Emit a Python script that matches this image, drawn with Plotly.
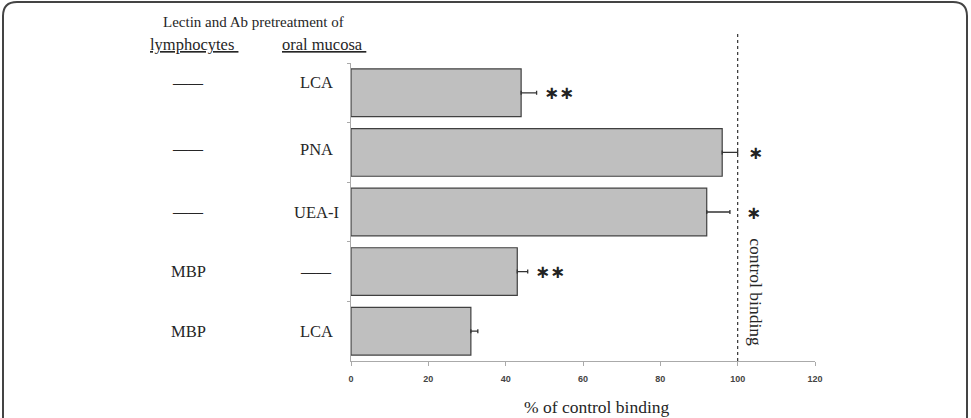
import plotly.graph_objects as go

# ---------------- data ----------------
lymphocytes = ["——", "——", "——", "MBP", "MBP"]
oral_mucosa = ["LCA", "PNA", "UEA-I", "——", "LCA"]
values = [44, 96, 92, 43, 31]
errors = [4, 4, 6, 2.7, 1.8]
signif = ["**", "*", "*", "**", ""]
control_value = 100
x_ticks = [0, 20, 40, 60, 80, 100, 120]

# ---------------- layout geometry (pixels) ----------------
W, H = 971, 418
L, R, T, B = 351, 815, 63, 361


def px(x):
    return (x - L) / (R - L)


def py(y):
    return (B - y) / (B - T)


cats = [f"{a}|{b}|{i}" for i, (a, b) in enumerate(zip(lymphocytes, oral_mucosa))]

serif = "Liberation Serif"
dark = "#262626"


def lab(t):
    return "<b>" + t + "</b>" if t == "——" else t


fig = go.Figure()
fig.add_trace(go.Bar(
    x=values, y=cats, orientation="h",
    marker=dict(color="#bfbfbf", line=dict(color="#404040", width=1.2)),
    error_x=dict(type="data", array=errors, symmetric=False, arrayminus=[0] * len(values),
                 color="#333333", thickness=1.3, width=2),
    hoverinfo="skip",
))

C = dict(xanchor="center", yanchor="middle", showarrow=False)
annotations = []
# header
annotations.append(dict(text="Lectin and Ab pretreatment of", x=px(253), y=py(22),
                        xref="paper", yref="paper", **C,
                        font=dict(family=serif, size=15, color=dark)))
annotations.append(dict(text="<u>lymphocytes&nbsp;</u>", x=px(194), y=py(45),
                        xref="paper", yref="paper", **C,
                        font=dict(family=serif, size=16.5, color=dark)))
annotations.append(dict(text="<u>oral mucosa&nbsp;</u>", x=px(324), y=py(45),
                        xref="paper", yref="paper", **C,
                        font=dict(family=serif, size=16.5, color=dark)))

# row labels
yshifts = [10, 3, 0, 0, 0]
for i, c in enumerate(cats):
    annotations.append(dict(text=lab(lymphocytes[i]), x=px(188), y=c, xref="paper", yref="y",
                            yshift=yshifts[i], **C,
                            font=dict(family=serif, size=16.5 if lymphocytes[i] != "——" else 15, color=dark)))
    annotations.append(dict(text=lab(oral_mucosa[i]), x=px(316), y=c, xref="paper", yref="y",
                            yshift=yshifts[i], **C,
                            font=dict(family=serif, size=16.5 if oral_mucosa[i] != "——" else 15, color=dark)))

# significance stars
star_shift = [5, 8, 14, 5, 0]
for i, c in enumerate(cats):
    if signif[i]:
        annotations.append(dict(text=signif[i].replace("*", "∗"), x=values[i] + errors[i], y=c,
                                xref="x", yref="y", xanchor="left", yanchor="middle", showarrow=False,
                                xshift=star_shift[i], yshift=0,
                                font=dict(family="DejaVu Sans", size=18, color="#222", weight="bold")))

# control binding label
annotations.append(dict(text="control binding", x=control_value, y=py(292), xref="x", yref="paper",
                        xshift=18, textangle=90, **C,
                        font=dict(family=serif, size=17.5, color=dark)))
# x axis title
annotations.append(dict(text="% of control binding", x=px(597), y=py(407), xref="paper", yref="paper",
                        **C, font=dict(family=serif, size=17.5, color=dark)))

shapes = []
# dashed control line
shapes.append(dict(type="line", xref="x", yref="paper", x0=control_value, x1=control_value,
                   y0=0, y1=py(32), line=dict(color="#333", width=1.2, dash="dot")))

# rounded frame
x0, x1, y0, y1, r = 3, 967, 2, 440, 14
rx = r / (R - L)
ry = r / (B - T)
X0, X1, Y0, Y1 = px(x0), px(x1), py(y0), py(y1)
path = (f"M {X0 + rx},{Y0} L {X1 - rx},{Y0} Q {X1},{Y0} {X1},{Y0 - ry} "
        f"L {X1},{Y1} L {X0},{Y1} L {X0},{Y0 - ry} Q {X0},{Y0} {X0 + rx},{Y0} Z")
shapes.append(dict(type="path", xref="paper", yref="paper", path=path,
                   line=dict(color="#444", width=2), layer="above"))

fig.update_layout(
    width=W, height=H,
    margin=dict(l=L, r=W - R, t=T, b=H - B),
    paper_bgcolor="white", plot_bgcolor="white",
    showlegend=False,
    bargap=0.2,
    annotations=annotations,
    shapes=shapes,
    xaxis=dict(range=[0, 120], tickvals=x_ticks, ticks="outside", ticklen=4, tickcolor="#aaa",
               showline=True, linecolor="#aaa", linewidth=1.3, showgrid=False, zeroline=False,
               tickfont=dict(family="Liberation Sans", size=9, color="#444", weight="bold"),
               ticklabelstandoff=5, fixedrange=True),
    yaxis=dict(categoryorder="array", categoryarray=cats, autorange="reversed",
               showticklabels=False, ticks="outside", ticklen=3, tickcolor="#aaa",
               tickson="boundaries", showline=True, linecolor="#aaa", linewidth=1.3,
               showgrid=False, zeroline=False, fixedrange=True),
)

fig.write_html("out.html")
